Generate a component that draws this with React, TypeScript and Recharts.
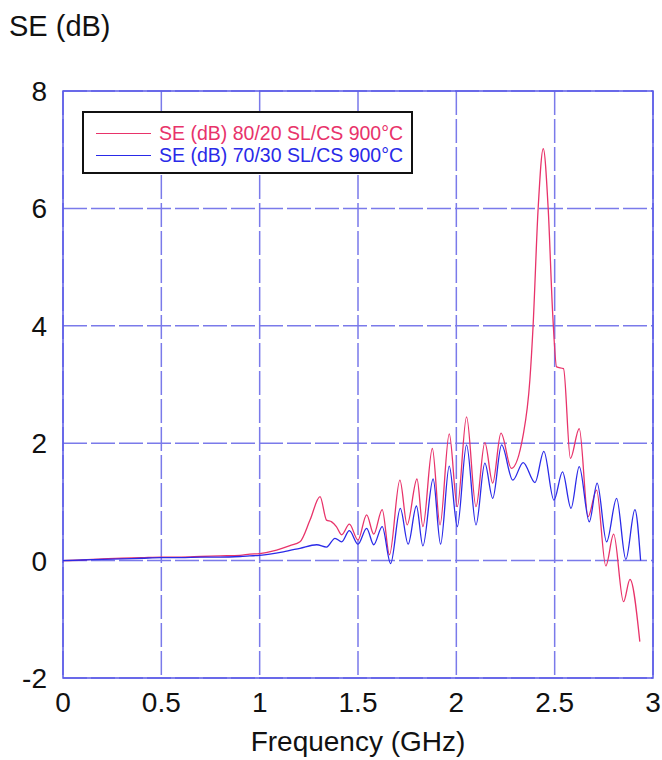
import React from 'react';
import { LineChart, Line, XAxis, YAxis, CartesianGrid, ReferenceArea, Legend } from 'recharts';

const xTicks = [0, 0.5, 1, 1.5, 2, 2.5, 3];
const yTicks = [-2, 0, 2, 4, 6, 8];

const redName = 'SE (dB) 80/20 SL/CS 900°C';
const blueName = 'SE (dB) 70/30 SL/CS 900°C';

const redFreq = [0, 0.1, 0.2, 0.3, 0.4, 0.5, 0.6, 0.7, 0.8, 0.9, 0.95, 1.0, 1.07, 1.154, 1.205, 1.256, 1.307, 1.34, 1.366, 1.39, 1.417, 1.456, 1.5, 1.544, 1.58, 1.623, 1.66, 1.713, 1.75, 1.8, 1.83, 1.878, 1.917, 1.964, 2.005, 2.052, 2.1, 2.145, 2.185, 2.227, 2.28, 2.34, 2.374, 2.39, 2.416, 2.442, 2.467, 2.49, 2.51, 2.545, 2.58, 2.625, 2.67, 2.713, 2.76, 2.8, 2.85, 2.883, 2.933];
const redSE = [0, 0.01, 0.03, 0.04, 0.05, 0.06, 0.06, 0.07, 0.08, 0.09, 0.11, 0.12, 0.165, 0.255, 0.32, 0.69, 1.09, 0.69, 0.66, 0.58, 0.44, 0.62, 0.35, 0.78, 0.45, 0.87, 0.1, 1.37, 0.61, 1.39, 0.58, 1.91, 0.61, 2.16, 0.92, 2.45, 0.92, 2.01, 1.32, 2.17, 1.57, 2.14, 3.08, 3.98, 6.0, 7.02, 6.0, 4.2, 3.3, 3.27, 1.74, 2.25, 0.75, 1.2, -0.09, 0.45, -0.7, -0.32, -1.38];

const blueFreq = [0, 0.1, 0.2, 0.3, 0.4, 0.5, 0.6, 0.7, 0.8, 0.9, 0.95, 1.0, 1.12, 1.205, 1.29, 1.34, 1.383, 1.417, 1.456, 1.5, 1.544, 1.58, 1.623, 1.666, 1.715, 1.755, 1.797, 1.83, 1.882, 1.92, 1.964, 2.005, 2.052, 2.1, 2.145, 2.185, 2.23, 2.287, 2.34, 2.4, 2.445, 2.496, 2.54, 2.583, 2.625, 2.676, 2.716, 2.764, 2.815, 2.862, 2.908, 2.937];
const blueSE = [0, 0.01, 0.02, 0.03, 0.04, 0.05, 0.05, 0.06, 0.06, 0.07, 0.08, 0.09, 0.15, 0.21, 0.27, 0.23, 0.38, 0.32, 0.51, 0.28, 0.55, 0.27, 0.58, -0.05, 0.89, 0.28, 0.93, 0.25, 1.39, 0.28, 1.61, 0.58, 1.97, 0.61, 1.66, 1.06, 1.97, 1.37, 1.67, 1.33, 1.86, 1.03, 1.51, 0.89, 1.6, 0.66, 1.32, 0.32, 1.06, 0.02, 0.87, 0.0];

const redData = redFreq.map((f, i) => ({ f, v: redSE[i] }));
const blueData = blueFreq.map((f, i) => ({ f, v: blueSE[i] }));

const RED = '#e8336a';
const BLUE = '#2a2ae8';
const GRID = '#7a7aea';
const FONT = '"Liberation Sans", Arial, sans-serif';

const renderLegend = () => (
  <div
    style={{
      boxSizing: 'border-box',
      width: 331,
      height: 63,
      border: '2px solid #111',
      background: '#fff',
      padding: '9px 0 0 12px',
      fontFamily: FONT,
      fontSize: 19.5,
      lineHeight: '22px',
    }}
  >
    {[{ n: redName, c: RED }, { n: blueName, c: BLUE }].map((it) => (
      <div key={it.n} style={{ display: 'flex', alignItems: 'center', color: it.c, whiteSpace: 'nowrap' }}>
        <span style={{ display: 'inline-block', width: 55, height: 0, borderTop: `1.3px solid ${it.c}`, marginRight: 8 }} />
        <span>{it.n}</span>
      </div>
    ))}
  </div>
);

export default function App() {
  return (
    <div style={{ position: 'absolute', left: 0, top: 0, background: '#fff' }}>
      <LineChart width={662} height={760} margin={{ top: 91, right: 9, bottom: 32, left: 13 }}>
        <CartesianGrid stroke={GRID} strokeDasharray="24 4" strokeWidth={1.5} />
        <XAxis
          type="number"
          dataKey="f"
          domain={[0, 3]}
          ticks={xTicks}
          allowDuplicatedCategory={false}
          axisLine={false}
          tickLine={false}
          tickSize={0}
          tickMargin={14}
          height={50}
          tick={{ fill: '#111', fontSize: 28, fontFamily: FONT }}
          label={{
            content: () => (
              <text x={358} y={751} textAnchor="middle" fill="#111" fontSize={28} fontFamily={FONT}>
                Frequency (GHz)
              </text>
            ),
          }}
        />
        <YAxis
          type="number"
          domain={[-2, 8]}
          ticks={yTicks}
          axisLine={false}
          tickLine={false}
          tickSize={0}
          tickMargin={16}
          width={50}
          tick={{ fill: '#111', fontSize: 28, fontFamily: FONT }}
          label={{
            content: () => (
              <text x={9} y={36} textAnchor="start" fill="#111" fontSize={29} fontFamily={FONT}>
                SE (dB)
              </text>
            ),
          }}
        />
        <ReferenceArea x1={0} x2={3} y1={-2} y2={8} fill="none" stroke="#5a5ae8" strokeWidth={1.5} ifOverflow="visible" />
        <Legend
          layout="horizontal"
          verticalAlign="middle"
          align="center"
          content={renderLegend}
          wrapperStyle={{ left: 82, top: 111, width: 331, height: 63 }}
        />
        <Line data={redData} dataKey="v" name={redName} type="monotone" stroke={RED} strokeWidth={1.3} dot={false} isAnimationActive={false} />
        <Line data={blueData} dataKey="v" name={blueName} type="monotone" stroke={BLUE} strokeWidth={1.3} dot={false} isAnimationActive={false} />
      </LineChart>
    </div>
  );
}
